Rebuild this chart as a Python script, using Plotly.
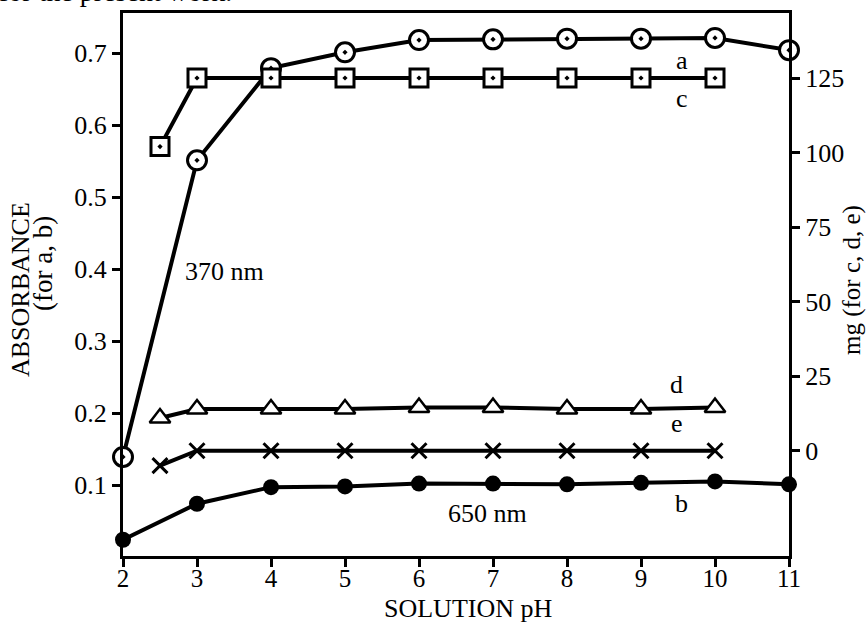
import plotly.graph_objects as go

# ---- data ----
ph_a = [2, 3, 4, 5, 6, 7, 8, 9, 10, 11]
abs_a = [0.139, 0.551, 0.679, 0.701, 0.718, 0.719, 0.720, 0.720, 0.721, 0.704]

ph_b = [2, 3, 4, 5, 6, 7, 8, 9, 10, 11]
abs_b = [0.024, 0.074, 0.097, 0.098, 0.102, 0.102, 0.101, 0.103, 0.105, 0.101]

ph_cde = [2.5, 3, 4, 5, 6, 7, 8, 9, 10]
mg_c = [102, 125, 125, 125, 125, 125, 125, 125, 125]
mg_d = [11, 14, 14, 14, 14.5, 14.5, 14, 14, 14.5]
mg_e = [-5, 0, 0, 0, 0, 0, 0, 0, 0]

x_ticks = [2, 3, 4, 5, 6, 7, 8, 9, 10, 11]
left_ticks = [0.1, 0.2, 0.3, 0.4, 0.5, 0.6, 0.7]
right_ticks = [0, 25, 50, 75, 100, 125]

FONT = "Liberation Serif"
LW = 4

fig = go.Figure()

fig.add_trace(go.Scatter(
    x=ph_a, y=abs_a, mode="lines+markers", cliponaxis=False,
    line=dict(color="black", width=LW),
    marker=dict(symbol="circle-dot", size=19, color="white",
                line=dict(color="black", width=3)),
    yaxis="y"))

fig.add_trace(go.Scatter(
    x=ph_b, y=abs_b, mode="lines+markers", cliponaxis=False,
    line=dict(color="black", width=LW),
    marker=dict(symbol="circle", size=16, color="black"),
    yaxis="y"))

fig.add_trace(go.Scatter(
    x=ph_cde, y=mg_c, mode="lines+markers", cliponaxis=False,
    line=dict(color="black", width=LW),
    marker=dict(symbol="square-dot", size=18, color="white",
                line=dict(color="black", width=3)),
    yaxis="y2"))

fig.add_trace(go.Scatter(
    x=ph_cde, y=mg_d, mode="lines+markers", cliponaxis=False,
    line=dict(color="black", width=LW),
    marker=dict(symbol="triangle-up", size=18, color="white",
                line=dict(color="black", width=2.5)),
    yaxis="y2"))

fig.add_trace(go.Scatter(
    x=ph_cde, y=mg_e, mode="lines+markers", cliponaxis=False,
    line=dict(color="black", width=LW),
    marker=dict(symbol="x-thin-open", size=15, color="black",
                line=dict(color="black", width=3)),
    yaxis="y2"))

ann_font = dict(family=FONT, size=26, color="black")
labels = [
    ("a", 9.56, 0.690), ("c", 9.56, 0.6375), ("d", 9.48, 0.239),
    ("e", 9.48, 0.186), ("b", 9.55, 0.075),
    ("370 nm", 3.37, 0.396), ("650 nm", 6.93, 0.060),
]
annotations = [dict(text=t, x=x, y=y, xref="x", yref="y", showarrow=False,
                    xanchor="center", yanchor="middle", font=ann_font)
               for t, x, y in labels]


def title(text, x, y, xs, ys, size, angle=0):
    return dict(text=text, x=x, y=y, xref="paper", yref="paper",
                xanchor="center", yanchor="middle", xshift=xs, yshift=ys,
                textangle=angle, showarrow=False,
                font=dict(family=FONT, size=size, color="black"))


annotations += [
    dict(text="for the present work.", x=0, y=1.0, xref="paper", yref="paper",
         xanchor="left", yanchor="bottom", xshift=-126, yshift=4,
         showarrow=False, font=dict(family=FONT, size=28, color="black")),
    title("ABSORBANCE", 0, 0.5, -103, -5.5, 26, -90),
    title("(for a, b)", 0, 0.5, -80, 20.5, 27, -90),
    title("mg (for c, d, e)", 1, 0.5, 63, 4.5, 25, -90),
    title("SOLUTION pH", 0.5, 0, 12, -52, 26),
]

axis_common = dict(showline=True, linecolor="black", linewidth=3,
                   ticks="outside", ticklen=8, tickwidth=2.5, tickcolor="black",
                   showgrid=False, zeroline=False, automargin=False,
                   tickfont=dict(family=FONT, size=26, color="black"))

fig.update_layout(
    width=868, height=625,
    margin=dict(l=123, r=79, t=13, b=69, autoexpand=False),
    paper_bgcolor="white", plot_bgcolor="white",
    showlegend=False,
    font=dict(family=FONT, color="black"),
    xaxis=dict(range=[2, 11], tickvals=x_ticks, mirror=True,
               ticklabelstandoff=-10, **axis_common),
    yaxis=dict(range=[0.0014, 0.7556], tickvals=left_ticks,
               tickformat=".1f", **axis_common),
    yaxis2=dict(range=[-35.3, 146.8], tickvals=right_ticks, overlaying="y",
                side="right", **axis_common),
    annotations=annotations,
)
fig.update_xaxes(tickfont=dict(family=FONT, size=25, color="black"))

fig.write_html("out.html",
               config={"displayModeBar": False},
               post_script="document.body.style.margin='0';"
                           "document.body.style.overflow='hidden';")
